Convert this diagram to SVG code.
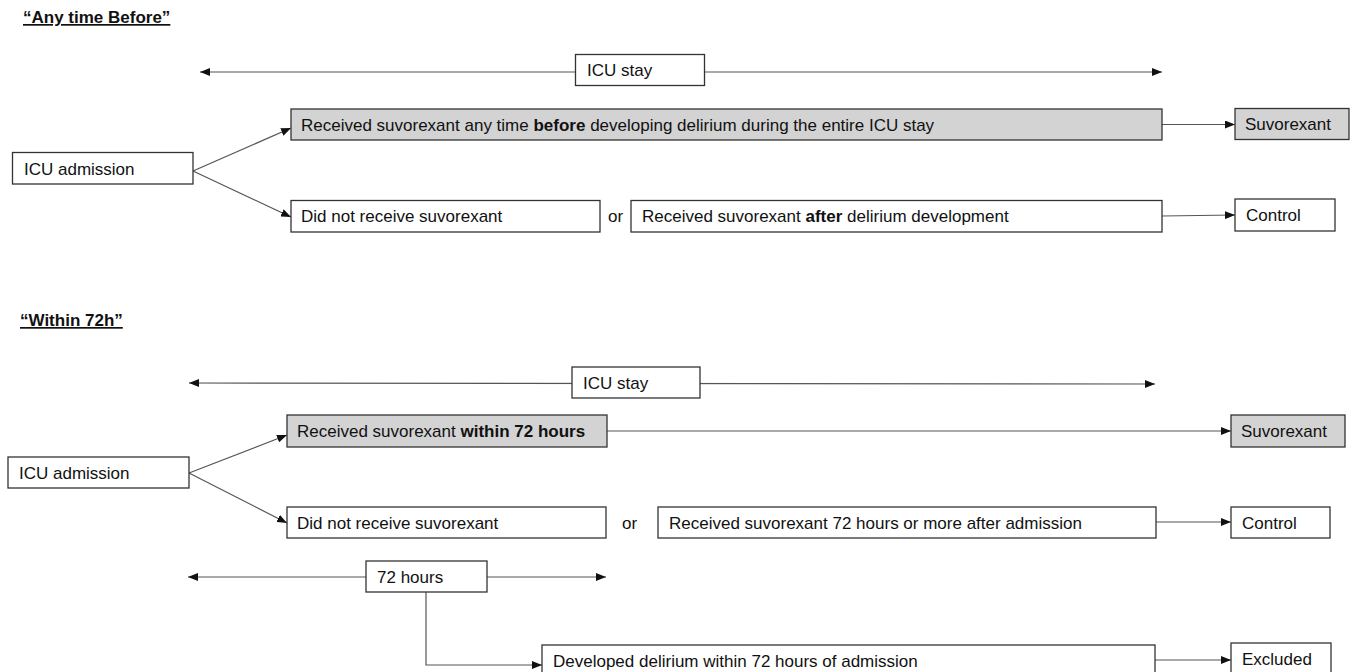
<svg xmlns="http://www.w3.org/2000/svg" width="1352" height="672" viewBox="0 0 1352 672">
<defs>
<marker id="ah" markerWidth="10" markerHeight="8" refX="10" refY="4" orient="auto" markerUnits="userSpaceOnUse">
<path d="M0,0 L10,4 L0,8 Z" fill="#111"/>
</marker>
<marker id="ahs" markerWidth="10" markerHeight="8" refX="0" refY="4" orient="auto" markerUnits="userSpaceOnUse">
<path d="M10,0 L0,4 L10,8 Z" fill="#111"/>
</marker>
<style>
text{font-family:"Liberation Sans",Arial,sans-serif;font-size:17px;fill:#111}
.title{font-weight:bold;text-decoration:underline;font-size:17px}
.box{fill:#fff;stroke:#333;stroke-width:1.3}
.gray{fill:#d3d3d3;stroke:#333;stroke-width:1.3}
.ln{fill:none;stroke:#555;stroke-width:1.2}
.arr{marker-end:url(#ah)}
.dbl{marker-start:url(#ahs);marker-end:url(#ah)}
</style>
</defs>
<rect width="1352" height="672" fill="#fff"/>

<text class="title" x="23" y="23">“Any time Before”</text>
<text class="title" x="20" y="326">“Within 72h”</text>

<g id="connectors">
<line class="ln dbl" x1="200" y1="72" x2="1162" y2="72"/>
<line class="ln arr" x1="1162" y1="124.5" x2="1235" y2="124.5"/>
<line class="ln arr" x1="193" y1="171" x2="291" y2="128"/>
<line class="ln arr" x1="193" y1="171" x2="291" y2="217"/>
<line class="ln arr" x1="1162" y1="216" x2="1235" y2="215"/>

<line class="ln dbl" x1="189" y1="383" x2="1155" y2="384"/>
<line class="ln arr" x1="607" y1="431" x2="1231" y2="431"/>
<line class="ln arr" x1="189" y1="473" x2="287" y2="435"/>
<line class="ln arr" x1="189" y1="473" x2="287" y2="523"/>
<line class="ln arr" x1="1156" y1="522" x2="1231" y2="522"/>
<line class="ln dbl" x1="188" y1="577" x2="606" y2="577"/>
<polyline class="ln arr" points="426,592 426,665 542,665"/>
<line class="ln arr" x1="1155" y1="660" x2="1231" y2="660"/>
</g>

<g id="icu-stay-1"><rect class="box" x="575.5" y="54.5" width="129" height="31"/><text x="587" y="76">ICU stay</text></g>
<g id="received-before"><rect class="gray" x="291" y="109" width="871" height="31"/><text x="301" y="131">Received suvorexant any time <tspan font-weight="bold">before</tspan> developing delirium during the entire ICU stay</text></g>
<g id="suvorexant-1"><rect class="gray" x="1235" y="108.5" width="114" height="31"/><text x="1245" y="130">Suvorexant</text></g>
<g id="icu-admission-1"><rect class="box" x="12.5" y="152.5" width="180.5" height="31.5"/><text x="24" y="175">ICU admission</text></g>
<g id="did-not-1"><rect class="box" x="291" y="200.5" width="309" height="31.5"/><text x="301" y="222">Did not receive suvorexant</text></g>
<g id="or-1"><text x="608" y="222">or</text></g>
<g id="received-after"><rect class="box" x="631" y="200.5" width="531" height="31.5"/><text x="642" y="222">Received suvorexant <tspan font-weight="bold">after</tspan> delirium development</text></g>
<g id="control-1"><rect class="box" x="1235" y="199" width="100" height="32"/><text x="1246" y="221">Control</text></g>

<g id="icu-stay-2"><rect class="box" x="572" y="367" width="128" height="31"/><text x="583" y="389">ICU stay</text></g>
<g id="received-within"><rect class="gray" x="287" y="415" width="320" height="32"/><text x="297" y="437">Received suvorexant <tspan font-weight="bold">within 72 hours</tspan></text></g>
<g id="suvorexant-2"><rect class="gray" x="1231" y="415" width="114" height="32"/><text x="1241" y="437">Suvorexant</text></g>
<g id="icu-admission-2"><rect class="box" x="8" y="457" width="181" height="31"/><text x="19" y="479">ICU admission</text></g>
<g id="did-not-2"><rect class="box" x="287" y="507" width="319" height="31"/><text x="297" y="529">Did not receive suvorexant</text></g>
<g id="or-2"><text x="622" y="529">or</text></g>
<g id="received-72"><rect class="box" x="658" y="507" width="498" height="31"/><text x="669" y="529">Received suvorexant 72 hours or more after admission</text></g>
<g id="control-2"><rect class="box" x="1231" y="507" width="99" height="31"/><text x="1242" y="529">Control</text></g>
<g id="hours-72"><rect class="box" x="366" y="561" width="121" height="31"/><text x="377" y="583">72 hours</text></g>
<g id="developed"><rect class="box" x="542" y="645" width="613" height="32"/><text x="553" y="667">Developed delirium within 72 hours of admission</text></g>
<g id="excluded"><rect class="box" x="1231" y="643" width="100" height="32"/><text x="1242" y="665">Excluded</text></g>
</svg>
